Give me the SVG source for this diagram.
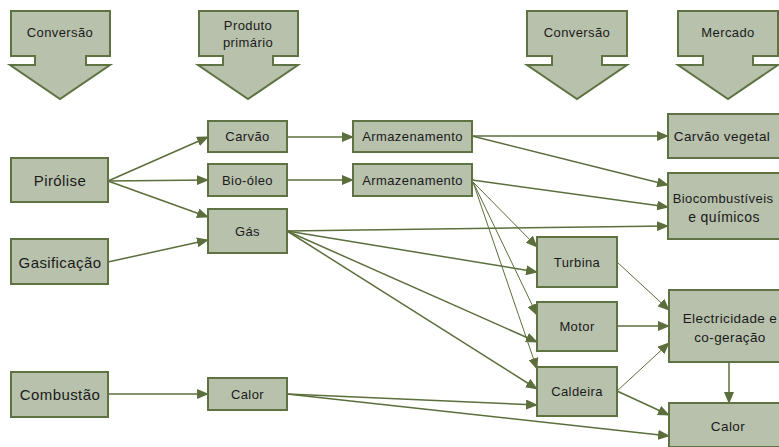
<svg xmlns="http://www.w3.org/2000/svg" width="779" height="447" viewBox="0 0 779 447">
<defs>
<style>
.hdr{fill:#b7c1ac;stroke:#5e7341;stroke-width:2;stroke-linejoin:miter}
.box{fill:#b7c1ac;stroke:#5e7341;stroke-width:2}
.t{font-family:"Liberation Sans",Arial,sans-serif;font-size:13px;fill:#1a1a1a;text-anchor:middle;letter-spacing:0.4px}
.tl{font-family:"Liberation Sans",Arial,sans-serif;font-size:15px;fill:#1a1a1a;text-anchor:middle;letter-spacing:0.4px}
.c{stroke:#5b6e3c;stroke-width:1.5;fill:none;marker-end:url(#ah)}
.cf{stroke:#5b6e3c;stroke-width:1;fill:none;marker-end:url(#ah)}
</style>
<marker id="ah" markerUnits="userSpaceOnUse" markerWidth="12" markerHeight="10" refX="11" refY="5" orient="auto">
<path d="M0,0 L12,5 L0,10 Z" fill="#5b6e3c"/>
</marker>
</defs>
<rect width="779" height="447" fill="#ffffff"/>

<g id="hdr-conversao1">
<path class="hdr" d="M11,11 H110 V56 H86 V65 H110 L60,99 L10,65 H35 V56 H11 Z"/>
<text class="t" x="60" y="37">Conversão</text>
</g>
<g id="hdr-produto">
<path class="hdr" d="M199,11 H298 V56 H273 V65 H298 L248,99 L198,65 H223 V56 H199 Z"/>
<text class="t" x="248" y="30">Produto</text>
<text class="t" x="248" y="47">primário</text>
</g>
<g id="hdr-conversao2">
<path class="hdr" d="M527,11 H627 V56 H602 V65 H627 L577,99 L527,65 H552 V56 H527 Z"/>
<text class="t" x="577" y="37">Conversão</text>
</g>
<g id="hdr-mercado">
<path class="hdr" d="M678,11 H778 V56 H753 V65 H778 L728,99 L678,65 H703 V56 H678 Z"/>
<text class="t" x="728" y="37">Mercado</text>
</g>

<g id="connectors">
<line class="c" x1="108" y1="181" x2="208" y2="137"/>
<line class="c" x1="108" y1="181" x2="208" y2="180"/>
<line class="c" x1="108" y1="181" x2="208" y2="217"/>
<line class="c" x1="108" y1="262" x2="208" y2="240"/>
<line class="c" x1="108" y1="394" x2="208" y2="394"/>
<line class="c" x1="287" y1="137" x2="353" y2="137"/>
<line class="c" x1="287" y1="180" x2="353" y2="180"/>
<line class="c" x1="472" y1="136" x2="668" y2="136"/>
<line class="c" x1="472" y1="136" x2="668" y2="185"/>
<line class="c" x1="472" y1="180" x2="668" y2="207"/>
<line class="cf" x1="473" y1="182" x2="537" y2="247"/>
<line class="cf" x1="473" y1="182" x2="537" y2="315"/>
<line class="cf" x1="473" y1="182" x2="537" y2="369"/>
<line class="c" x1="287" y1="231" x2="668" y2="226"/>
<line class="c" x1="287" y1="231" x2="537" y2="272"/>
<line class="c" x1="287" y1="231" x2="537" y2="342"/>
<line class="c" x1="287" y1="231" x2="537" y2="389"/>
<line class="c" x1="287" y1="394" x2="537" y2="405"/>
<line class="c" x1="287" y1="394" x2="669" y2="436"/>
<line class="cf" x1="617" y1="262" x2="669" y2="310"/>
<line class="c" x1="617" y1="326" x2="669" y2="326"/>
<line class="cf" x1="617" y1="391" x2="669" y2="343"/>
<line class="c" x1="617" y1="391" x2="669" y2="415"/>
<line class="c" x1="729" y1="362" x2="729" y2="403"/>
</g>

<g id="pirolise"><rect class="box" x="11" y="158" width="97" height="44"/><text class="tl" x="60" y="186">Pirólise</text></g>
<g id="gasificacao"><rect class="box" x="11" y="239" width="97" height="45"/><text class="tl" x="60" y="268">Gasificação</text></g>
<g id="combustao"><rect class="box" x="11" y="372" width="97" height="45"/><text class="tl" x="60" y="400">Combustão</text></g>
<g id="carvao"><rect class="box" x="208" y="121" width="79" height="31"/><text class="t" x="247.5" y="141">Carvão</text></g>
<g id="bio-oleo"><rect class="box" x="208" y="164" width="79" height="32"/><text class="t" x="247.5" y="185">Bio-óleo</text></g>
<g id="gas"><rect class="box" x="208" y="209" width="79" height="44"/><text class="t" x="247.5" y="236">Gás</text></g>
<g id="calor1"><rect class="box" x="208" y="378" width="79" height="32"/><text class="t" x="247.5" y="399">Calor</text></g>
<g id="armazenamento1"><rect class="box" x="353" y="121" width="119" height="31"/><text class="t" x="412.5" y="141">Armazenamento</text></g>
<g id="armazenamento2"><rect class="box" x="353" y="164" width="119" height="32"/><text class="t" x="412.5" y="185">Armazenamento</text></g>
<g id="turbina"><rect class="box" x="537" y="237" width="80" height="50"/><text class="t" x="577" y="267">Turbina</text></g>
<g id="motor"><rect class="box" x="537" y="302" width="80" height="49"/><text class="t" x="577" y="331">Motor</text></g>
<g id="caldeira"><rect class="box" x="537" y="367" width="80" height="49"/><text class="t" x="577" y="396">Caldeira</text></g>
<g id="carvao-vegetal"><rect class="box" x="668" y="114" width="112" height="44"/><text class="t" x="722" y="141" style="font-size:13.5px">Carvão vegetal</text></g>
<g id="biocombustiveis"><rect class="box" x="668" y="173" width="112" height="66"/><text class="t" x="723" y="203" style="font-size:13px">Biocombustíveis</text><text class="t" x="724" y="222" style="font-size:14px">e químicos</text></g>
<g id="electricidade"><rect class="box" x="669" y="290" width="112" height="72"/><text class="t" x="730" y="323" style="font-size:13.5px">Electricidade e</text><text class="t" x="730" y="342" style="font-size:13.5px">co-geração</text></g>
<g id="calor2"><rect class="box" x="669" y="403" width="112" height="44"/><text class="t" x="728" y="431" style="font-size:13.5px">Calor</text></g>
</svg>
